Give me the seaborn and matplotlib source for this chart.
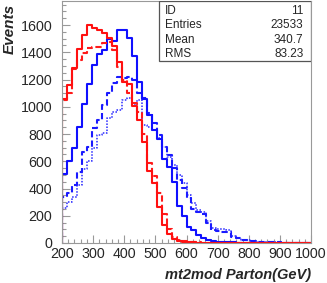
import numpy as np
import pandas as pd
import matplotlib.pyplot as plt
import seaborn as sns
from matplotlib.patches import Rectangle
from matplotlib.ticker import MultipleLocator

# Histogram binning: 50 bins of 16 GeV between 200 and 1000 (plus empty guard bins)
bin_edges = list(range(184, 1017, 16))

# Bin contents (first and last are empty guard bins)
red_solid = [0, 1060, 1160, 1285, 1425, 1525, 1600, 1575, 1562, 1540, 1505,
             1448, 1332, 1185, 1165, 1005, 900, 745, 528, 440, 267,
             133, 65, 28, 15, 10, 6, 4, 3, 2, 1,
             1, 0, 0, 0, 0, 0, 0, 0, 0, 0,
             0, 0, 0, 0, 0, 0, 0, 0, 0, 0, 0]
red_dashed = [0, 1050, 1100, 1280, 1345, 1395, 1430, 1440, 1440, 1465, 1475,
              1415, 1295, 1195, 1100, 1030, 960, 800, 590, 490, 368,
              210, 100, 45, 25, 15, 10, 6, 4, 3, 2,
              1, 1, 0, 0, 0, 0, 0, 0, 0, 0,
              0, 0, 0, 0, 0, 0, 0, 0, 0, 0, 0]
blue_solid = [0, 505, 600, 697, 850, 1020, 1170, 1310, 1390, 1420, 1500,
              1480, 1560, 1560, 1505, 1370, 1180, 1060, 940, 830, 760,
              620, 560, 450, 270, 195, 115, 92, 60, 36, 22,
              15, 10, 7, 5, 4, 3, 2, 2, 1, 1,
              1, 1, 0, 0, 0, 0, 0, 0, 0, 0, 0]
blue_dashed = [0, 340, 367, 426, 523, 670, 707, 842, 903, 1013, 1099,
               1172, 1221, 1210, 1221, 1196, 1099, 1062, 952, 880, 793,
               707, 646, 550, 462, 404, 330, 250, 230, 215, 145,
               95, 85, 83, 80, 46, 34, 22, 20, 15, 10,
               8, 6, 5, 4, 3, 2, 2, 1, 1, 1, 0]
blue_dotted = [0, 256, 303, 335, 426, 540, 600, 695, 793, 805, 915,
               964, 976, 1050, 1062, 1013, 1050, 866, 854, 830, 768,
               707, 633, 572, 499, 438, 352, 290, 240, 225, 165,
               110, 100, 100, 95, 50, 36, 24, 20, 14, 10,
               8, 6, 5, 4, 3, 2, 2, 1, 1, 1, 0]

stats_labels = ["ID", "Entries", "Mean", "RMS"]
stats_values = ["11", "23533", "340.7", "83.23"]

centers = [(a + b) / 2 for a, b in zip(bin_edges[:-1], bin_edges[1:])]
df = pd.DataFrame({
    "mt2": centers,
    "red_solid": red_solid,
    "red_dashed": red_dashed,
    "blue_solid": blue_solid,
    "blue_dashed": blue_dashed,
    "blue_dotted": blue_dotted,
})

sns.set_style("white")
plt.rcParams["font.family"] = ["Liberation Sans", "DejaVu Sans"]

fig = plt.figure(figsize=(3.27, 2.83), dpi=100)
ax = fig.add_axes([62 / 327, 40 / 283, 249 / 327, 242.5 / 283])

styles = [
    ("blue_dotted", "#2a2aff", (0, (1, 1)), 1.1),
    ("blue_dashed", "#1a1aff", (0, (3, 1.5)), 1.5),
    ("blue_solid", "#1010ff", "-", 1.5),
    ("red_dashed", "#ff1a1a", (0, (3, 1.5)), 1.5),
    ("red_solid", "#ff1010", "-", 1.5),
]
for col, color, ls, lw in styles:
    sns.histplot(data=df, x="mt2", weights=col, bins=bin_edges, element="step",
                 fill=False, color=color, linestyle=ls, linewidth=lw, ax=ax)

ax.set_xlim(200, 1000)
ax.set_ylim(0, 1780)
ax.xaxis.set_major_locator(MultipleLocator(100))
ax.xaxis.set_minor_locator(MultipleLocator(20))
ax.yaxis.set_major_locator(MultipleLocator(200))
ax.yaxis.set_minor_locator(MultipleLocator(50))
ax.tick_params(which="both", direction="in", color="#999999", labelsize=10.3,
               bottom=True, left=True, top=False, right=False)
ax.tick_params(which="major", length=6, width=0.8)
ax.tick_params(which="minor", length=3, width=0.8)
ax.tick_params(axis="y", pad=7)
ax.tick_params(axis="x", pad=3)
for side in ["left", "bottom", "right", "top"]:
    ax.spines[side].set_color("#999999")
    ax.spines[side].set_linewidth(0.8)

ax.set_xlabel("mt2mod Parton(GeV)", fontsize=10.5, fontweight="bold",
              fontstyle="italic", loc="right", labelpad=5)
ax.set_ylabel("Events", fontsize=11, fontweight="bold",
              fontstyle="italic", loc="top")
ax.yaxis.set_label_coords(-0.18, 0.985)

# Stats box
box_left, box_bottom = 0.39, 0.75
ax.add_patch(Rectangle((box_left, box_bottom), 1 - box_left, 1 - box_bottom,
                       transform=ax.transAxes, facecolor="white",
                       edgecolor="#555555", linewidth=0.9, zorder=5))
for i, (lab, val) in enumerate(zip(stats_labels, stats_values)):
    y = 0.957 - i * 0.059
    ax.text(0.415, y, lab, transform=ax.transAxes, fontsize=8.5,
            va="center", ha="left", zorder=6)
    ax.text(0.97, y, val, transform=ax.transAxes, fontsize=8.5,
            va="center", ha="right", zorder=6)

fig.savefig("out.png", dpi=100)
